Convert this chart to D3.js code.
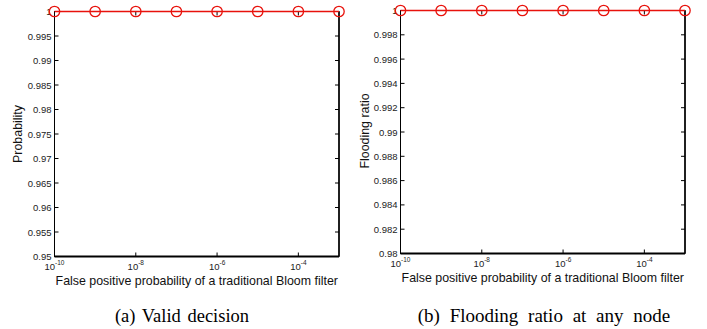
<!DOCTYPE html>
<html><head><meta charset="utf-8">
<script src="https://cdn.jsdelivr.net/npm/d3@7"></script>
<style>body{margin:0;background:#fff}svg{display:block}</style>
</head><body>
<script>
const xValues = [1e-10, 1e-9, 1e-8, 1e-7, 1e-6, 1e-5, 1e-4, 1e-3];
const validDecision = [1, 1, 1, 1, 1, 1, 1, 1];
const floodingRatio = [1, 1, 1, 1, 1, 1, 1, 1];
const xTickExps = [-10, -8, -6, -4];
const yTicksA = [0.95, 0.955, 0.96, 0.965, 0.97, 0.975, 0.98, 0.985, 0.99, 0.995, 1];
const yTicksB = [0.98, 0.982, 0.984, 0.986, 0.988, 0.99, 0.992, 0.994, 0.996, 0.998, 1];
const xLabel = "False positive probability of a traditional Bloom filter";

const svg = d3.select("body").append("svg").attr("width", 707).attr("height", 329);

function panel(o) {
  const g = svg.append("g");
  const x = d3.scaleLog().domain([1e-10, 1e-3]).range([o.x0, o.x1]);
  const y = d3.scaleLinear().domain(o.ydom).range([o.y1, o.y0]);
  const tl = 4;
  const xt = xTickExps.map(e => Math.pow(10, e));
  g.selectAll(null).data(xt).enter().append("line")
    .attr("x1", d => x(d)).attr("x2", d => x(d)).attr("y1", o.y1).attr("y2", o.y1 - tl)
    .attr("stroke", "#000");
  g.selectAll(null).data(xt).enter().append("line")
    .attr("x1", d => x(d)).attr("x2", d => x(d)).attr("y1", o.y0).attr("y2", o.y0 + tl)
    .attr("stroke", "#000");
  g.selectAll(null).data(o.yticks).enter().append("line")
    .attr("x1", o.x0).attr("x2", o.x0 + tl).attr("y1", d => y(d)).attr("y2", d => y(d))
    .attr("stroke", "#000");
  g.selectAll(null).data(o.yticks).enter().append("line")
    .attr("x1", o.x1).attr("x2", o.x1 - tl).attr("y1", d => y(d)).attr("y2", d => y(d))
    .attr("stroke", "#000");
  g.append("rect").attr("x", o.x0).attr("y", o.y0).attr("width", o.x1 - o.x0).attr("height", o.y1 - o.y0)
    .attr("fill", "none").attr("stroke", "#000").attr("stroke-width", 1);
  g.append("line").attr("x1", o.x0).attr("x2", o.x1).attr("y1", o.y1).attr("y2", o.y1)
    .attr("stroke", "#000").attr("stroke-width", 1.8);
  g.append("line").attr("x1", o.x1).attr("x2", o.x1).attr("y1", o.y0).attr("y2", o.y1)
    .attr("stroke", "#000").attr("stroke-width", 1.5);
  g.selectAll(null).data(o.yticks).enter().append("text")
    .attr("x", o.x0 - 3).attr("y", d => y(d) + 3.5)
    .attr("text-anchor", "end").attr("font-family", "Liberation Sans, Arial, sans-serif")
    .attr("font-size", 9.5).attr("fill", "#222")
    .text(d => d3.format("")(+d.toFixed(3)));
  const xl = g.selectAll(null).data(xTickExps).enter().append("text")
    .attr("x", d => x(Math.pow(10, d))).attr("y", o.y1 + 13)
    .attr("text-anchor", "middle").attr("font-family", "Liberation Sans, Arial, sans-serif")
    .attr("font-size", 9.5).attr("fill", "#222");
  xl.append("tspan").text("10");
  xl.append("tspan").attr("dy", -5).attr("font-size", 6.5).text(d => d);
  g.append("text").attr("x", (o.x0 + o.x1) / 2).attr("y", o.xly)
    .attr("text-anchor", "middle").attr("font-family", "Liberation Sans, Arial, sans-serif")
    .attr("font-size", 12.4).attr("fill", "#111").text(xLabel);
  g.append("text").attr("transform", `translate(${o.ylx},${o.yly}) rotate(-90)`)
    .attr("text-anchor", "middle").attr("font-family", "Liberation Sans, Arial, sans-serif")
    .attr("font-size", 12.4).attr("fill", "#111").text(o.ylabel);
  const pts = xValues.map((v, i) => [v, o.data[i]]);
  g.append("path").datum(pts)
    .attr("d", d3.line().x(d => x(d[0])).y(d => y(d[1])))
    .attr("fill", "none").attr("stroke", "#e8120c").attr("stroke-width", 1.6);
  g.selectAll(null).data(pts).enter().append("circle")
    .attr("cx", d => x(d[0])).attr("cy", d => y(d[1])).attr("r", 5.2)
    .attr("fill", "none").attr("stroke", "#e8120c").attr("stroke-width", 1.3);
  svg.append("text").attr("x", o.capx).attr("y", 322).attr("text-anchor", "middle")
    .attr("font-family", "Liberation Serif, Times New Roman, serif").attr("font-size", o.capfs)
    .attr("word-spacing", o.capws).attr("fill", "#000").text(o.caption);
}

panel({x0: 54.5, x1: 339, y0: 11.5, y1: 256.5, ydom: [0.95, 1], yticks: yTicksA,
  data: validDecision, ylabel: "Probability", ylx: 22, yly: 134, xly: 284.5,
  caption: "(a)  Valid decision", capx: 182, capfs: 18.5, capws: 2});
panel({x0: 400.5, x1: 685, y0: 10.5, y1: 253.5, ydom: [0.98, 1], yticks: yTicksB,
  data: floodingRatio, ylabel: "Flooding ratio", ylx: 369, yly: 131, xly: 282,
  caption: "(b)  Flooding ratio at any node", capx: 544, capfs: 19, capws: 5});
</script>
</body></html>
